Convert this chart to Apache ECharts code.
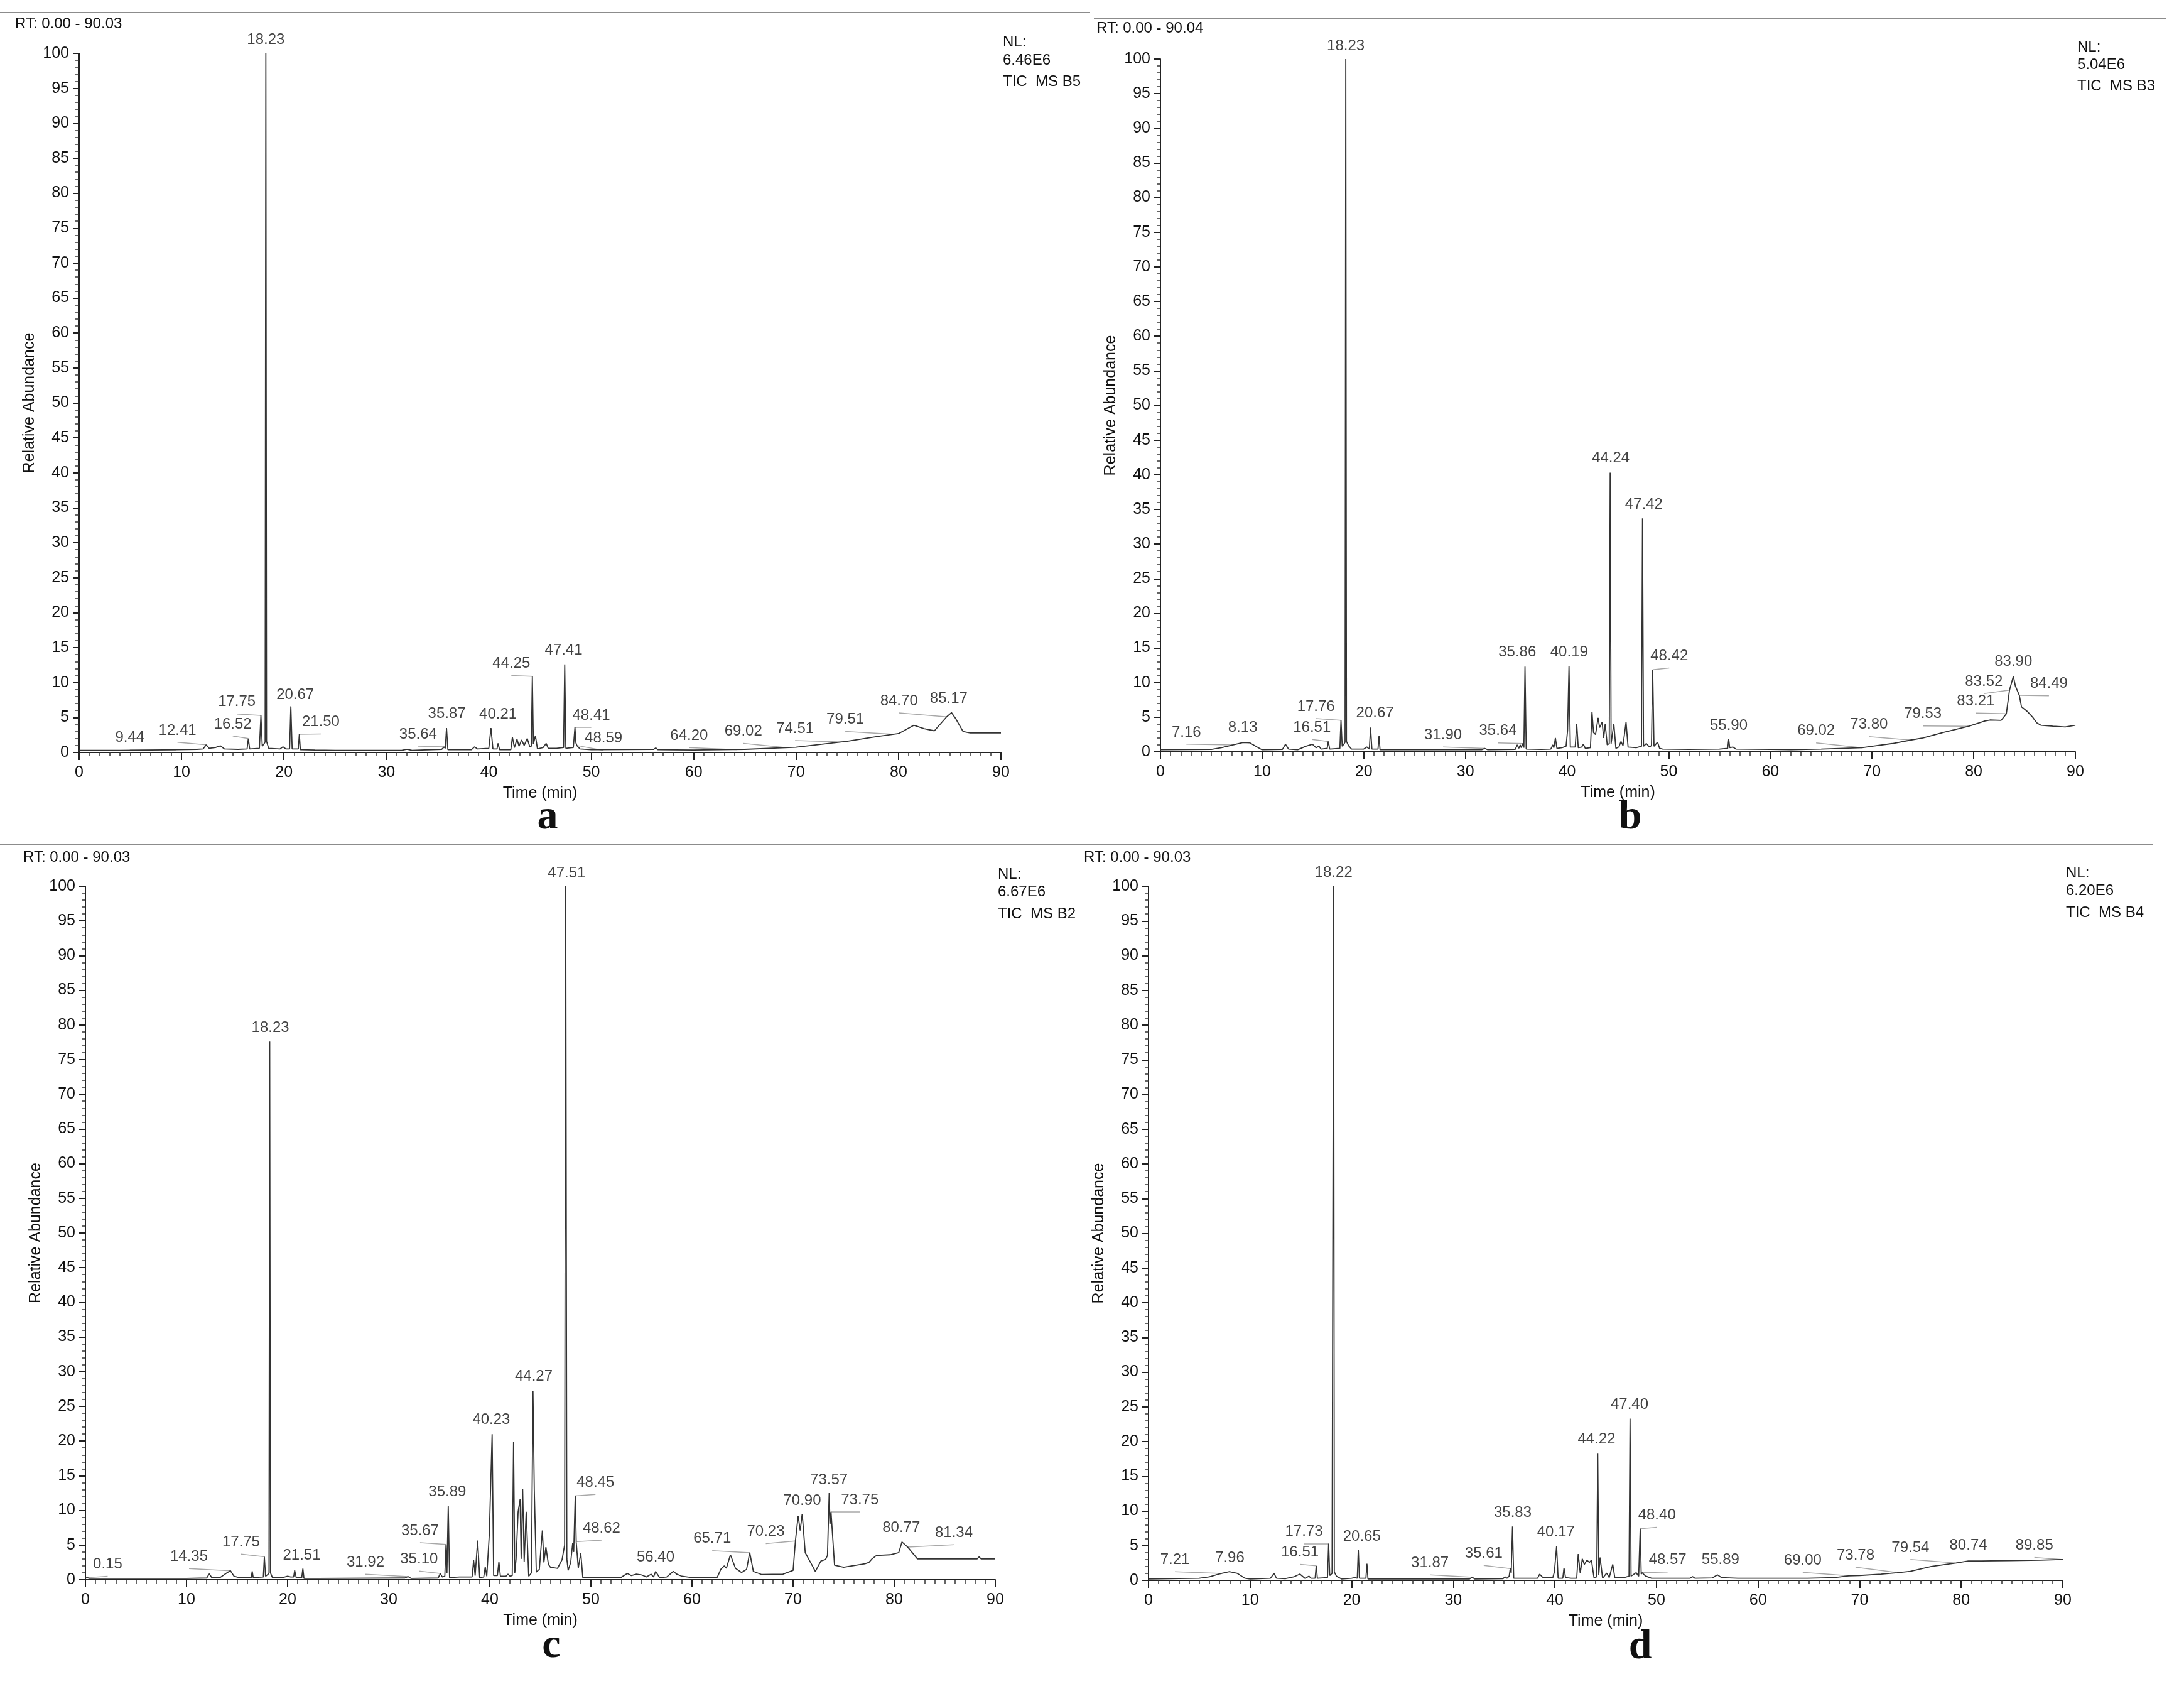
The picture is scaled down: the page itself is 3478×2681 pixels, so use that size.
<!DOCTYPE html>
<html>
<head>
<meta charset="utf-8">
<script src="https://cdn.jsdelivr.net/npm/echarts@6/dist/echarts.min.js"></script>
<style>
html,body{margin:0;padding:0;background:#fff;}
#chart{width:3478px;height:2681px;}
</style>
</head>
<body>
<div id="chart"></div>
<script>
// ---------- DATA ----------
// trace points: [time (min), relative abundance]
const traceA = [
[0,0.3],[4,0.3],[7,0.35],[9.44,0.4],[11.5,0.45],[12.1,0.5],[12.41,1.1],[12.7,0.6],[13.3,0.7],[13.8,0.95],[14.2,0.5],[15.5,0.45],[16.4,0.5],[16.52,2.0],[16.65,0.5],[17.6,0.6],[17.75,5.3],[17.88,0.9],[18.08,1.3],[18.16,1.5],[18.23,100],[18.3,1.6],[18.5,0.6],[19.6,0.5],[19.9,0.8],[20.2,0.5],[20.55,0.5],[20.67,6.6],[20.8,0.5],[21.4,0.5],[21.5,2.6],[21.6,0.4],[23,0.35],[25,0.3],[31.5,0.3],[32,0.45],[32.5,0.3],[35.4,0.45],[35.64,0.8],[35.75,0.6],[35.87,3.5],[36.0,0.4],[38.3,0.4],[38.6,0.8],[38.9,0.5],[40.0,0.6],[40.21,3.5],[40.4,0.5],[40.8,0.5],[40.9,1.3],[41.05,0.4],[42.15,0.4],[42.3,2.2],[42.5,0.7],[42.75,1.9],[42.95,0.9],[43.2,1.8],[43.45,1.0],[43.75,2.0],[44.0,0.8],[44.15,0.9],[44.25,10.9],[44.35,1.2],[44.55,2.4],[44.75,0.5],[45.3,0.7],[45.6,1.3],[45.8,0.6],[46.6,0.6],[47.3,0.7],[47.41,12.6],[47.52,0.6],[48.25,0.7],[48.41,3.6],[48.5,1.4],[48.59,1.0],[48.9,0.5],[50,0.4],[56.1,0.45],[56.3,0.65],[56.5,0.4],[60,0.35],[65,0.45],[70,0.75],[75,1.6],[78,2.3],[80,2.7],[81.5,3.9],[82.5,3.4],[83.5,3.1],[84.7,5.1],[85.17,5.7],[85.6,4.8],[86.3,3.0],[87,2.8],[90,2.8]
];
const traceB = [
[0,0.3],[5,0.35],[6,0.6],[7.16,1.0],[8.13,1.35],[8.8,1.3],[9.5,0.7],[10,0.3],[12.0,0.35],[12.3,1.1],[12.6,0.4],[13.5,0.3],[14.3,0.8],[14.95,1.1],[15.3,0.6],[15.6,0.8],[15.8,0.4],[16.4,0.5],[16.51,1.5],[16.65,0.4],[17.65,0.5],[17.76,4.55],[17.88,0.8],[18.08,1.2],[18.16,1.4],[18.23,100],[18.3,1.5],[18.5,0.9],[18.8,0.4],[20.0,0.4],[20.3,0.7],[20.55,0.4],[20.67,3.5],[20.8,0.4],[21.4,0.4],[21.5,2.25],[21.6,0.3],[24,0.3],[31.6,0.3],[31.9,0.5],[32.2,0.3],[34.9,0.35],[35.1,1.0],[35.25,0.5],[35.4,1.0],[35.5,0.6],[35.64,1.2],[35.75,0.6],[35.86,12.3],[35.98,0.4],[37.5,0.35],[38.4,0.4],[38.6,1.0],[38.7,0.6],[38.85,2.0],[39.0,0.5],[39.5,0.6],[39.9,0.8],[40.05,3.1],[40.19,12.4],[40.32,0.7],[40.8,0.7],[40.95,4.0],[41.1,0.6],[41.45,0.7],[41.6,1.1],[41.8,0.5],[42.3,0.6],[42.45,5.8],[42.6,2.8],[42.8,2.5],[43.05,4.9],[43.2,3.5],[43.45,4.3],[43.6,2.0],[43.75,4.0],[43.95,1.0],[44.15,1.2],[44.24,40.3],[44.33,1.2],[44.6,4.05],[44.8,0.5],[45.1,0.7],[45.3,1.5],[45.5,0.9],[45.8,4.3],[46.0,0.7],[46.8,0.6],[47.32,0.8],[47.42,33.7],[47.52,0.8],[47.8,1.2],[48.1,0.7],[48.3,0.9],[48.42,11.85],[48.55,0.8],[48.9,1.4],[49.1,0.5],[49.4,0.4],[52,0.35],[55,0.4],[55.8,0.5],[55.9,1.8],[56.0,0.6],[56.3,0.7],[56.6,0.4],[60,0.35],[62,0.3],[65,0.4],[69.02,0.6],[70,0.8],[72,1.2],[73.8,1.7],[75,2.0],[77,2.8],[79.53,3.7],[81.1,4.45],[81.6,4.6],[82.7,4.55],[83.21,5.5],[83.52,8.9],[83.9,10.9],[84.1,9.5],[84.49,8.15],[84.7,6.5],[85.3,5.8],[85.8,5.0],[86.2,4.2],[86.6,3.85],[87.8,3.7],[89,3.6],[90,3.85]
];
const traceC = [
[0,0.2],[0.15,0.3],[0.4,0.2],[5,0.2],[10,0.2],[12.0,0.25],[12.25,0.85],[12.5,0.3],[13.3,0.3],[14.0,1.0],[14.35,1.3],[14.7,0.5],[15.2,0.3],[16.4,0.3],[16.5,1.2],[16.6,0.3],[17.6,0.4],[17.7,3.3],[17.82,0.5],[18.08,0.8],[18.16,1.0],[18.23,77.6],[18.3,1.0],[18.5,0.3],[19.5,0.3],[20.0,0.5],[20.3,0.4],[20.6,0.4],[20.7,1.35],[20.85,0.3],[21.4,0.3],[21.51,1.6],[21.62,0.2],[23,0.2],[31.6,0.25],[31.92,0.45],[32.2,0.2],[34.9,0.25],[35.1,0.9],[35.3,0.4],[35.55,0.5],[35.67,5.1],[35.76,1.0],[35.89,10.6],[36.02,0.3],[37.0,0.4],[38.25,0.4],[38.4,2.8],[38.55,0.6],[38.8,5.65],[39.0,0.3],[39.4,0.4],[39.55,1.9],[39.7,0.5],[39.95,6.5],[40.23,21.0],[40.38,0.6],[40.75,0.6],[40.9,2.6],[41.05,0.5],[41.6,0.5],[41.8,0.8],[42.0,0.5],[42.22,0.6],[42.35,19.9],[42.47,1.0],[42.6,3.0],[42.8,9.8],[43.0,11.6],[43.1,3.0],[43.25,13.1],[43.4,2.6],[43.6,9.8],[43.85,0.5],[44.12,1.0],[44.27,27.2],[44.4,13.0],[44.6,1.1],[44.9,1.5],[45.2,7.1],[45.35,2.5],[45.55,4.7],[45.8,2.2],[46.0,1.8],[46.7,1.65],[47.15,2.9],[47.4,5.0],[47.51,100],[47.62,3.0],[47.75,1.35],[48.0,2.5],[48.2,5.3],[48.3,4.0],[48.45,12.1],[48.55,5.4],[48.62,5.5],[48.75,1.7],[48.9,3.0],[49.0,3.8],[49.2,0.3],[50,0.3],[53,0.35],[53.6,0.9],[54,0.6],[54.5,0.8],[55,0.7],[55.5,0.4],[55.95,0.8],[56.2,0.4],[56.4,1.2],[56.8,0.3],[57.5,0.4],[58.15,1.2],[58.5,0.8],[59,0.5],[60,0.3],[62.5,0.35],[62.85,1.5],[63.2,2.0],[63.4,1.65],[63.8,3.6],[64.3,1.65],[64.9,1.05],[65.4,1.5],[65.71,3.9],[66.07,1.2],[66.9,0.75],[69,0.8],[70,1.35],[70.23,5.6],[70.5,9.2],[70.7,7.1],[70.9,9.5],[71.2,3.9],[71.8,2.3],[72.2,1.2],[72.75,2.7],[73.2,2.9],[73.4,3.5],[73.57,12.5],[73.65,8.0],[73.75,9.8],[74.1,2.1],[75,1.8],[77.1,2.3],[77.5,2.5],[77.8,3.0],[78.25,3.5],[79.6,3.6],[80.45,3.9],[80.77,5.45],[81.34,4.7],[82.3,3.0],[85,3.0],[88.2,3.0],[88.4,3.3],[88.6,3.0],[90,3.0]
];
const traceD = [
[0,0.2],[5,0.3],[6,0.5],[6.9,0.9],[7.21,1.0],[7.96,1.25],[8.75,1.0],[9.5,0.3],[10,0.2],[12.0,0.3],[12.35,1.0],[12.6,0.3],[13.5,0.25],[14.3,0.5],[14.9,0.9],[15.4,0.3],[15.8,0.6],[16.0,0.3],[16.4,0.3],[16.51,2.1],[16.62,0.3],[17.62,0.4],[17.73,5.3],[17.84,0.7],[18.07,1.0],[18.15,1.1],[18.22,100],[18.29,1.2],[18.5,0.6],[19.0,0.2],[20.0,0.3],[20.3,0.4],[20.55,0.3],[20.65,4.4],[20.76,0.3],[21.4,0.3],[21.5,2.4],[21.6,0.2],[24,0.2],[31.6,0.2],[31.87,0.45],[32.1,0.2],[34.9,0.25],[35.1,0.5],[35.3,0.3],[35.5,0.6],[35.61,1.7],[35.7,1.0],[35.83,7.75],[35.95,0.3],[38.3,0.3],[38.5,0.9],[38.8,0.45],[39.8,0.4],[39.95,1.2],[40.17,4.9],[40.32,0.3],[40.78,0.3],[40.9,1.8],[41.05,0.4],[41.6,0.3],[42.15,0.3],[42.3,3.8],[42.5,1.0],[42.7,3.1],[42.9,2.3],[43.15,2.9],[43.4,2.6],[43.6,2.9],[43.85,0.4],[44.12,0.5],[44.22,18.25],[44.32,0.8],[44.45,3.3],[44.7,0.3],[45.1,1.05],[45.35,0.4],[45.7,2.3],[45.9,0.4],[46.8,0.4],[47.3,0.6],[47.4,23.3],[47.5,0.6],[48.0,1.1],[48.25,0.6],[48.4,7.45],[48.5,0.9],[48.6,1.1],[48.9,0.65],[49.5,0.3],[53.3,0.3],[53.55,0.55],[53.8,0.3],[55.5,0.35],[56.0,0.8],[56.4,0.4],[58,0.3],[64.9,0.3],[67.5,0.4],[68.9,0.65],[70,0.7],[72.1,0.9],[73.7,1.1],[75,1.3],[77.05,2.0],[79.5,2.5],[80.7,2.8],[82,2.8],[84.9,2.85],[87.8,2.9],[89.8,3.0],[90,3.0]
];

// peak labels: [text, label time, label bottom value, peak time, peak value]
const labelsA = [
['9.44',4.95,0.8,9.44,0.4],['12.41',9.6,1.85,12.41,1.1],['16.52',15.0,2.75,16.52,2.0],['17.75',15.4,5.9,17.75,5.3],
['18.23',18.23,100.6,18.23,100],['20.67',21.1,6.9,20.67,6.6],['21.50',23.6,3.05,21.5,2.6],['35.64',33.1,1.3,35.64,0.8],
['35.87',35.9,4.25,35.87,3.5],['40.21',40.9,4.1,40.21,3.5],['44.25',42.2,11.4,44.25,10.9],['47.41',47.3,13.3,47.41,12.6],
['48.41',50.0,4.0,48.41,3.6],['48.59',51.2,0.7,48.59,1.0],['64.20',59.55,1.1,64.2,0.4],['69.02',64.85,1.7,69.02,0.7],
['74.51',69.9,2.1,74.51,1.5],['79.51',74.8,3.4,79.51,2.6],['84.70',80.05,6.05,84.7,5.1],['85.17',84.9,6.4,85.17,5.7]
];
const labelsB = [
['7.16',2.55,1.5,7.16,1.0],['8.13',8.1,2.15,8.13,1.35],['16.51',14.9,2.2,16.51,1.5],['17.76',15.3,5.2,17.76,4.55],
['18.23',18.23,100.6,18.23,100],['20.67',21.1,4.25,20.67,3.5],['31.90',27.8,1.1,31.9,0.5],['35.64',33.2,1.7,35.64,1.2],
['35.86',35.1,13.1,35.86,12.3],['40.19',40.2,13.1,40.19,12.4],['44.24',44.3,41.1,44.24,40.3],['47.42',47.55,34.4,47.42,33.7],
['48.42',50.05,12.5,48.42,11.85],['55.90',55.9,2.5,55.9,1.8],['69.02',64.5,1.7,69.02,0.6],['73.80',69.7,2.6,73.8,1.7],
['79.53',75.0,4.15,79.53,3.7],['83.21',80.2,6.0,83.21,5.5],['83.52',81.0,8.8,83.52,8.9],['83.90',83.9,11.7,83.9,10.9],
['84.49',87.4,8.5,84.49,8.15]
];
const labelsC = [
['0.15',2.2,0.9,0.15,0.3],['14.35',10.25,2.0,14.35,1.3],['17.75',15.4,4.1,17.75,3.3],['18.23',18.3,78.3,18.23,77.6],
['21.51',21.4,2.2,21.51,1.6],['31.92',27.7,1.2,31.92,0.45],['35.10',33.0,1.65,35.1,0.9],['35.67',33.1,5.75,35.67,5.1],
['35.89',35.8,11.3,35.89,10.6],['40.23',40.15,21.75,40.23,21.0],['44.27',44.35,28.0,44.27,27.2],['47.51',47.6,100.6,47.51,100],
['48.45',50.45,12.7,48.45,12.1],['48.62',51.05,6.1,48.62,5.5],['56.40',56.4,1.9,56.4,1.2],['65.71',62.0,4.6,65.71,3.9],
['70.23',67.3,5.6,70.23,5.6],['70.90',70.9,10.1,70.9,9.5],['73.57',73.55,13.1,73.57,12.5],['73.75',76.6,10.2,73.75,9.8],
['80.77',80.7,6.2,80.77,5.45],['81.34',85.9,5.45,81.34,4.7]
];
const labelsD = [
['7.21',2.6,1.65,7.21,1.0],['7.96',8.0,1.95,7.96,1.25],['16.51',14.9,2.7,16.51,2.1],['17.73',15.3,5.7,17.73,5.3],
['18.22',18.22,100.6,18.22,100],['20.65',21.0,5.0,20.65,4.4],['31.87',27.7,1.2,31.87,0.45],['35.61',33.0,2.55,35.61,1.7],
['35.83',35.85,8.45,35.83,7.75],['40.17',40.1,5.6,40.17,4.9],['44.22',44.1,19.0,44.22,18.25],['47.40',47.35,24.0,47.4,23.3],
['48.40',50.05,8.05,48.4,7.45],['48.57',51.1,1.6,48.57,1.1],['55.89',56.3,1.6,55.89,0.8],['69.00',64.4,1.55,69.0,0.65],
['73.78',69.6,2.3,73.78,1.1],['79.54',75.0,3.4,79.54,2.5],['80.74',80.7,3.7,80.74,2.8],['89.85',87.2,3.7,89.85,3.0]
];

const rtTexts = ['RT: 0.00 - 90.03','RT: 0.00 - 90.04','RT: 0.00 - 90.03','RT: 0.00 - 90.03'];
const nlValues = ['6.46E6','5.04E6','6.67E6','6.20E6'];
const ticTexts = ['TIC  MS B5','TIC  MS B3','TIC  MS B2','TIC  MS B4'];
const panelLetters = ['a','b','c','d'];
const xRange = [0, 90, 10];   // min, max, interval
const yRange = [0, 100, 5];

// ---------- LAYOUT ----------
const grids = [
  {left:126, top:85, width:1468, height:1113},
  {left:1848, top:94, width:1457, height:1103},
  {left:136, top:1411, width:1449, height:1104},
  {left:1829, top:1411, width:1456, height:1105}
];
const rtPos = [[24,38],[1746,45],[37,1365],[1726,1365]];
const nlPos = [[1597,67,96,130],[3308,75,103,137],[1589,1392,1420,1455],[3290,1390,1418,1453]];
const letterPos = [[872,1302],[2596,1302],[878,2621],[2612,2623]];

const FONT = '"Liberation Sans", Arial, sans-serif';
const traces = [traceA, traceB, traceC, traceD];
const labels = [labelsA, labelsB, labelsC, labelsD];

const xAxes = [], yAxes = [], series = [], graphics = [];
grids.forEach((g, i) => {
  xAxes.push({
    gridIndex:i, type:'value', min:xRange[0], max:xRange[1], interval:xRange[2],
    axisLine:{show:true, lineStyle:{color:'#222', width:2}},
    axisTick:{show:true, length:12, lineStyle:{color:'#222', width:2}},
    minorTick:{show:true, splitNumber:10, length:6, lineStyle:{color:'#333', width:1.5}},
    axisLabel:{fontSize:25, color:'#111', margin:20, fontFamily:FONT},
    splitLine:{show:false}, minorSplitLine:{show:false},
    name:'Time (min)', nameLocation:'middle', nameGap:53,
    nameTextStyle:{fontSize:25, color:'#111', fontFamily:FONT}
  });
  yAxes.push({
    gridIndex:i, type:'value', min:yRange[0], max:yRange[1], interval:yRange[2],
    axisLine:{show:true, lineStyle:{color:'#222', width:2}},
    axisTick:{show:true, length:10, lineStyle:{color:'#222', width:2}},
    minorTick:{show:true, splitNumber:5, length:6, lineStyle:{color:'#333', width:1.5}},
    axisLabel:{fontSize:25, color:'#111', margin:16, fontFamily:FONT},
    splitLine:{show:false}, minorSplitLine:{show:false},
    name:'Relative Abundance', nameLocation:'middle', nameGap:66, nameRotate:90,
    nameTextStyle:{fontSize:25, color:'#111', fontFamily:FONT}
  });
  series.push({
    type:'line', xAxisIndex:i, yAxisIndex:i, data:traces[i], showSymbol:false, symbol:'none',
    sampling:null, lineStyle:{color:'#333333', width:1.8}, z:3, clip:false
  });
  series.push({
    type:'scatter', xAxisIndex:i, yAxisIndex:i, clip:false, symbolSize:1,
    itemStyle:{color:'rgba(0,0,0,0)'}, z:5,
    data: labels[i].map(l => [l[1], l[2], l[0]]),
    label:{show:true, position:'top', distance:2, formatter:p => p.data[2],
      fontSize:24, color:'#111', fontFamily:FONT}
  });
  series.push({
    type:'lines', coordinateSystem:'cartesian2d', xAxisIndex:i, yAxisIndex:i, z:2,
    lineStyle:{color:'#a8a8a8', width:1.5, opacity:1},
    data: labels[i].filter(l => Math.abs(l[1]-l[3]) > 0.8).map(l => ({coords:[[l[1], l[2]-0.4],[l[3], l[4]]]}))
  });

  graphics.push({type:'text', x:rtPos[i][0], y:rtPos[i][1],
    style:{text:rtTexts[i], font:'24px ' + FONT, fill:'#111', textAlign:'left', textVerticalAlign:'middle'}});
  graphics.push({type:'text', x:nlPos[i][0], y:nlPos[i][1],
    style:{text:'NL:', font:'24px ' + FONT, fill:'#111', textAlign:'left', textVerticalAlign:'middle'}});
  graphics.push({type:'text', x:nlPos[i][0], y:nlPos[i][2],
    style:{text:nlValues[i], font:'24px ' + FONT, fill:'#111', textAlign:'left', textVerticalAlign:'middle'}});
  graphics.push({type:'text', x:nlPos[i][0], y:nlPos[i][3],
    style:{text:ticTexts[i], font:'24px ' + FONT, fill:'#111', textAlign:'left', textVerticalAlign:'middle'}});
  graphics.push({type:'text', x:letterPos[i][0], y:letterPos[i][1],
    style:{text:panelLetters[i], font:'bold 66px "Liberation Serif", "Times New Roman", serif', fill:'#111', textAlign:'center', textVerticalAlign:'middle'}});
});
graphics.push({type:'line', shape:{x1:0, y1:20, x2:1736, y2:20}, style:{stroke:'#8c8c8c', lineWidth:2}});
graphics.push({type:'line', shape:{x1:1742, y1:30, x2:3450, y2:30}, style:{stroke:'#8c8c8c', lineWidth:2}});
graphics.push({type:'line', shape:{x1:0, y1:1345, x2:3428, y2:1345}, style:{stroke:'#8c8c8c', lineWidth:2}});

const chart = echarts.init(document.getElementById('chart'), null, {renderer:'canvas', width:3478, height:2681});
chart.setOption({
  backgroundColor:'#ffffff',
  animation:false,
  grid: grids.map(g => Object.assign({containLabel:false}, g)),
  xAxis: xAxes,
  yAxis: yAxes,
  series: series,
  graphic: graphics
});
</script>
</body>
</html>
